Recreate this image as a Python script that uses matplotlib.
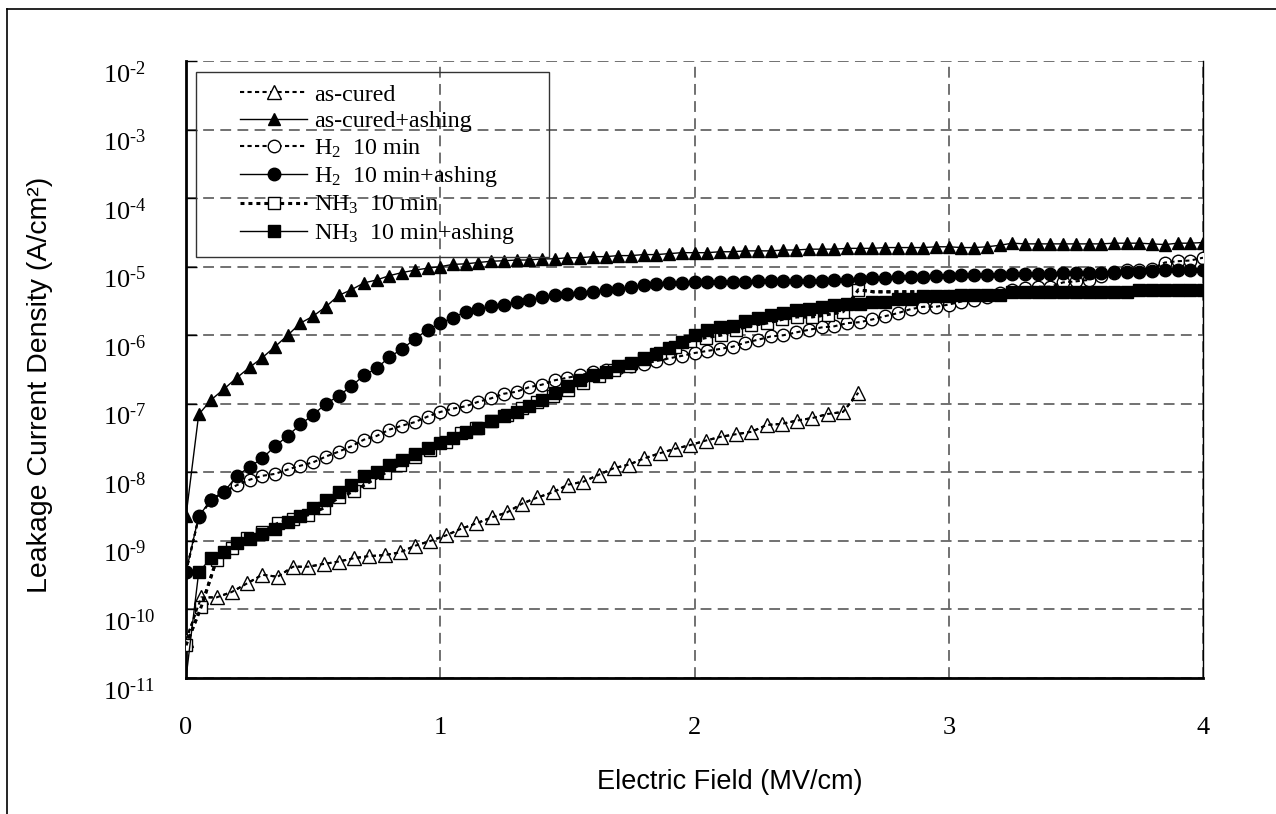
import numpy as np
import matplotlib
matplotlib.use("Agg")
import matplotlib.pyplot as plt
from matplotlib.lines import Line2D
from matplotlib.patches import Rectangle
from matplotlib.ticker import NullLocator

plt.rcParams['font.family'] = ['Liberation Serif', 'DejaVu Serif']
plt.rcParams['mathtext.fontset'] = 'custom'
plt.rcParams['mathtext.rm'] = 'Liberation Serif'
plt.rcParams['mathtext.it'] = 'Liberation Serif:italic'

# field values (MV/cm)
x_step05 = np.round(np.arange(0, 4.001, 0.05), 2)      # ashing samples + H2
x_step06 = np.round(np.arange(67) * 0.0601, 4)          # as-cured / NH3 10 min

as_cured = [3.6e-11, 1.5e-10, 1.5e-10, 1.8e-10, 2.4e-10, 3.2e-10, 3.0e-10, 4.2e-10, 4.2e-10, 4.6e-10,
            5.0e-10, 5.6e-10, 6.0e-10, 6.2e-10, 6.8e-10, 8.5e-10, 1.0e-9, 1.2e-9, 1.5e-9, 1.8e-9,
            2.2e-9, 2.6e-9, 3.5e-9, 4.3e-9, 5.1e-9, 6.6e-9, 7.3e-9, 9.2e-9, 1.15e-8, 1.3e-8,
            1.6e-8, 1.9e-8, 2.2e-8, 2.5e-8, 2.9e-8, 3.3e-8, 3.6e-8, 3.9e-8, 4.9e-8, 5.1e-8,
            5.7e-8, 6.2e-8, 7.1e-8, 7.6e-8, 1.45e-7]

as_cured_ash = [2.3e-9, 7.0e-8, 1.15e-7, 1.65e-7, 2.4e-7, 3.4e-7, 4.7e-7, 6.8e-7, 1.0e-6, 1.5e-6,
                1.9e-6, 2.6e-6, 3.8e-6, 4.6e-6, 5.8e-6, 6.4e-6, 7.4e-6, 8.2e-6, 8.9e-6, 9.5e-6,
                1.0e-5, 1.08e-5, 1.1e-5, 1.15e-5, 1.2e-5, 1.22e-5, 1.25e-5, 1.25e-5, 1.3e-5, 1.3e-5,
                1.35e-5, 1.35e-5, 1.4e-5, 1.4e-5, 1.45e-5, 1.45e-5, 1.5e-5, 1.5e-5, 1.55e-5, 1.6e-5,
                1.6e-5, 1.6e-5, 1.65e-5, 1.65e-5, 1.7e-5, 1.7e-5, 1.7e-5, 1.75e-5, 1.75e-5, 1.8e-5,
                1.8e-5, 1.8e-5, 1.85e-5, 1.85e-5, 1.85e-5, 1.9e-5, 1.9e-5, 1.9e-5, 1.9e-5, 1.95e-5,
                1.95e-5, 1.9e-5, 1.9e-5, 1.95e-5, 2.05e-5, 2.2e-5, 2.15e-5, 2.15e-5, 2.15e-5, 2.15e-5,
                2.15e-5, 2.15e-5, 2.15e-5, 2.2e-5, 2.2e-5, 2.2e-5, 2.15e-5, 2.1e-5, 2.2e-5, 2.2e-5,
                2.25e-5]

h2 = [3.5e-10, 2.2e-9, 4.0e-9, 5.2e-9, 6.5e-9, 7.8e-9, 8.9e-9, 9.5e-9, 1.1e-8, 1.25e-8,
      1.4e-8, 1.7e-8, 2.0e-8, 2.4e-8, 3.0e-8, 3.4e-8, 4.2e-8, 4.8e-8, 5.4e-8, 6.5e-8,
      7.6e-8, 8.5e-8, 9.2e-8, 1.07e-7, 1.2e-7, 1.4e-7, 1.5e-7, 1.75e-7, 1.9e-7, 2.2e-7,
      2.4e-7, 2.6e-7, 2.9e-7, 3.1e-7, 3.3e-7, 3.5e-7, 3.8e-7, 4.2e-7, 4.6e-7, 5.0e-7,
      5.5e-7, 5.9e-7, 6.3e-7, 6.8e-7, 7.8e-7, 8.6e-7, 9.6e-7, 1.0e-6, 1.1e-6, 1.2e-6,
      1.3e-6, 1.35e-6, 1.5e-6, 1.55e-6, 1.7e-6, 1.9e-6, 2.1e-6, 2.4e-6, 2.6e-6, 2.6e-6,
      2.8e-6, 3.1e-6, 3.3e-6, 3.6e-6, 4.1e-6, 4.6e-6, 4.9e-6, 5.1e-6, 5.1e-6, 5.9e-6,
      6.1e-6, 6.4e-6, 7.3e-6, 8.1e-6, 8.8e-6, 9.0e-6, 9.3e-6, 1.15e-5, 1.2e-5, 1.23e-5,
      1.35e-5]

h2_ash = [3.5e-10, 2.3e-9, 4.0e-9, 5.2e-9, 8.9e-9, 1.2e-8, 1.6e-8, 2.4e-8, 3.4e-8, 5.0e-8,
          6.9e-8, 1.0e-7, 1.3e-7, 1.8e-7, 2.6e-7, 3.3e-7, 4.8e-7, 6.3e-7, 8.8e-7, 1.2e-6,
          1.5e-6, 1.8e-6, 2.2e-6, 2.4e-6, 2.7e-6, 2.8e-6, 3.1e-6, 3.3e-6, 3.6e-6, 3.8e-6,
          4.0e-6, 4.1e-6, 4.3e-6, 4.5e-6, 4.7e-6, 5.0e-6, 5.4e-6, 5.6e-6, 5.7e-6, 5.8e-6,
          5.9e-6, 5.9e-6, 6.0e-6, 6.0e-6, 6.0e-6, 6.1e-6, 6.1e-6, 6.1e-6, 6.2e-6, 6.2e-6,
          6.2e-6, 6.3e-6, 6.3e-6, 6.6e-6, 6.8e-6, 6.9e-6, 7.0e-6, 7.0e-6, 7.1e-6, 7.2e-6,
          7.3e-6, 7.5e-6, 7.5e-6, 7.6e-6, 7.6e-6, 7.7e-6, 7.7e-6, 7.7e-6, 7.8e-6, 8.1e-6,
          8.1e-6, 8.2e-6, 8.2e-6, 8.3e-6, 8.3e-6, 8.4e-6, 8.7e-6, 8.8e-6, 8.8e-6, 8.9e-6,
          8.9e-6]

nh3 = [3e-11, 1.1e-10, 5.3e-10, 8e-10, 1.1e-9, 1.35e-9, 1.8e-9, 2.1e-9, 2.4e-9, 3.0e-9,
       4.3e-9, 5.3e-9, 7.2e-9, 9.7e-9, 1.3e-8, 1.7e-8, 2.1e-8, 2.8e-8, 3.8e-8, 4.5e-8,
       5.6e-8, 6.9e-8, 8.6e-8, 1.05e-7, 1.3e-7, 1.6e-7, 2.0e-7, 2.5e-7, 3.1e-7, 3.6e-7,
       4.5e-7, 5.5e-7, 6.8e-7, 8.2e-7, 9.2e-7, 1.0e-6, 1.2e-6, 1.4e-6, 1.5e-6, 1.7e-6,
       1.85e-6, 1.85e-6, 2.0e-6, 2.2e-6, 4.6e-6, 4.3e-6, 4.3e-6, 4.3e-6, 4.3e-6, 4.3e-6,
       4.3e-6, 3.8e-6, 3.8e-6, 3.8e-6, 4.2e-6, 4.2e-6, 4.2e-6, 4.2e-6, 4.2e-6, 4.2e-6,
       4.2e-6, 4.2e-6, 4.6e-6, 4.6e-6, 4.6e-6, 4.6e-6, 4.6e-6]

nh3_ash = [1e-11, 3.5e-10, 5.7e-10, 7.0e-10, 9.3e-10, 1.07e-9, 1.26e-9, 1.5e-9, 1.9e-9, 2.3e-9,
           3.0e-9, 4.0e-9, 5.1e-9, 6.6e-9, 8.7e-9, 1.02e-8, 1.3e-8, 1.5e-8, 1.85e-8, 2.3e-8,
           2.7e-8, 3.2e-8, 3.9e-8, 4.5e-8, 5.6e-8, 6.6e-8, 7.6e-8, 9.3e-8, 1.15e-7, 1.45e-7,
           1.8e-7, 2.2e-7, 2.6e-7, 2.9e-7, 3.5e-7, 4.0e-7, 4.6e-7, 5.4e-7, 6.5e-7, 8.0e-7,
           1.0e-6, 1.2e-6, 1.3e-6, 1.35e-6, 1.6e-6, 1.8e-6, 1.95e-6, 2.1e-6, 2.3e-6, 2.4e-6,
           2.6e-6, 2.75e-6, 2.9e-6, 2.9e-6, 3.1e-6, 3.1e-6, 3.4e-6, 3.4e-6, 3.7e-6, 3.7e-6,
           3.7e-6, 3.8e-6, 3.8e-6, 3.8e-6, 3.9e-6, 4.2e-6, 4.2e-6, 4.2e-6, 4.2e-6, 4.2e-6,
           4.2e-6, 4.2e-6, 4.2e-6, 4.3e-6, 4.3e-6, 4.6e-6, 4.6e-6, 4.6e-6, 4.6e-6, 4.6e-6,
           4.6e-6]

labels = ['as-cured', 'as-cured+ashing', 'H$_2$  10 min', 'H$_2$  10 min+ashing',
          'NH$_3$  10 min', 'NH$_3$  10 min+ashing']

W, H = 1276, 814
fig = plt.figure(figsize=(W / 100, H / 100), dpi=100)
ax = fig.add_axes([186 / W, 1 - 678 / H, (1203 - 186) / W, (678 - 61) / H])

dots = (0, (2.0, 1.6))
nh3_dots = (0, (1.3, 1.3))
ax.plot(x_step06[:45], as_cured, ls=dots, lw=1.5, color='black', marker='^', ms=10,
        mfc='white', mec='black', mew=1, label=labels[0], zorder=3)
ax.plot(x_step05, as_cured_ash, ls='-', lw=1, color='black', marker='^', ms=9,
        mfc='black', mec='black', label=labels[1], zorder=4)
ax.plot(x_step05, h2, ls=dots, lw=1.5, color='black', marker='o', ms=9,
        mfc='white', mec='black', mew=1, label=labels[2], zorder=3)
ax.plot(x_step05, h2_ash, ls='-', lw=1, color='black', marker='o', ms=9,
        mfc='black', mec='black', label=labels[3], zorder=4)
ax.plot(x_step06, nh3, ls=nh3_dots, lw=2.2, color='black', marker='s', ms=8,
        mfc='white', mec='black', mew=1, markevery=list(range(45)), label=labels[4], zorder=3)
ax.plot(x_step05, nh3_ash, ls='-', lw=1, color='black', marker='s', ms=8,
        mfc='black', mec='black', markevery=list(range(1, 81)), label=labels[5], zorder=4)

# dotted lines drawn again over the open markers
ax.plot(x_step06[:45], as_cured, ls=dots, lw=1.5, color='black', zorder=3.5)
ax.plot(x_step05, h2, ls=dots, lw=1.5, color='black', zorder=3.5)
ax.plot(x_step06, nh3, ls=nh3_dots, lw=2.2, color='black', zorder=3.5)

ax.set_yscale('log')
ax.set_ylim(1e-11, 1e-2)
ax.set_xlim(0, 4)
ax.yaxis.set_minor_locator(NullLocator())
ax.set_yticks([10.0 ** k for k in range(-11, -1)])
ax.set_yticklabels(['$\\mathregular{10^{\u2010%d}}$' % -k for k in range(-11, -1)])
ax.set_xticks([0, 1, 2, 3, 4])
ax.set_xticklabels(['0', '1', '2', '3', '4'])
ax.tick_params(axis='y', direction='in', length=8, width=1, pad=60, labelsize=19)
ax.tick_params(axis='x', direction='in', length=0, pad=28, labelsize=19)
plt.setp(ax.get_yticklabels(), ha='left', va='top')

ax.grid(True, ls=(0, (6, 3.5)), color='#666666', lw=1.3)
ax.spines['top'].set_visible(False)
ax.spines['left'].set_linewidth(2)
ax.spines['bottom'].set_linewidth(2)
ax.spines['right'].set_linewidth(1)

# legend without frame, box drawn separately
leg = ax.legend(loc='upper left', bbox_to_anchor=(240 / W, 1 - 84 / H),
                bbox_transform=fig.transFigure, frameon=False, fontsize=17.3,
                handlelength=2.8, handletextpad=0.3, labelspacing=0.2,
                borderpad=0, borderaxespad=0)
fig.add_artist(Rectangle((196 / W, 1 - 257 / H), (549 - 196) / W, (257 - 72) / H,
                         transform=fig.transFigure, fill=False, ec='#333333', lw=1))

sans = ['Liberation Sans Narrow', 'Liberation Sans', 'DejaVu Sans']
fig.text(730 / W, 1 - 782 / H, 'Electric Field (MV/cm)', ha='center', va='center',
         fontsize=19.5, family=sans)
fig.text(40 / W, 1 - 385 / H, 'Leakage Current Density (A/cm²)', ha='center', va='center',
         rotation=90, fontsize=20.5, family=sans)

# outer frame
fig.add_artist(Line2D([7 / W, 7 / W], [0, 1 - 9 / H], transform=fig.transFigure, color='black', lw=1.2))
fig.add_artist(Line2D([7 / W, 1], [1 - 9 / H, 1 - 9 / H], transform=fig.transFigure, color='black', lw=1.2))

fig.savefig('out.png', dpi=100)
